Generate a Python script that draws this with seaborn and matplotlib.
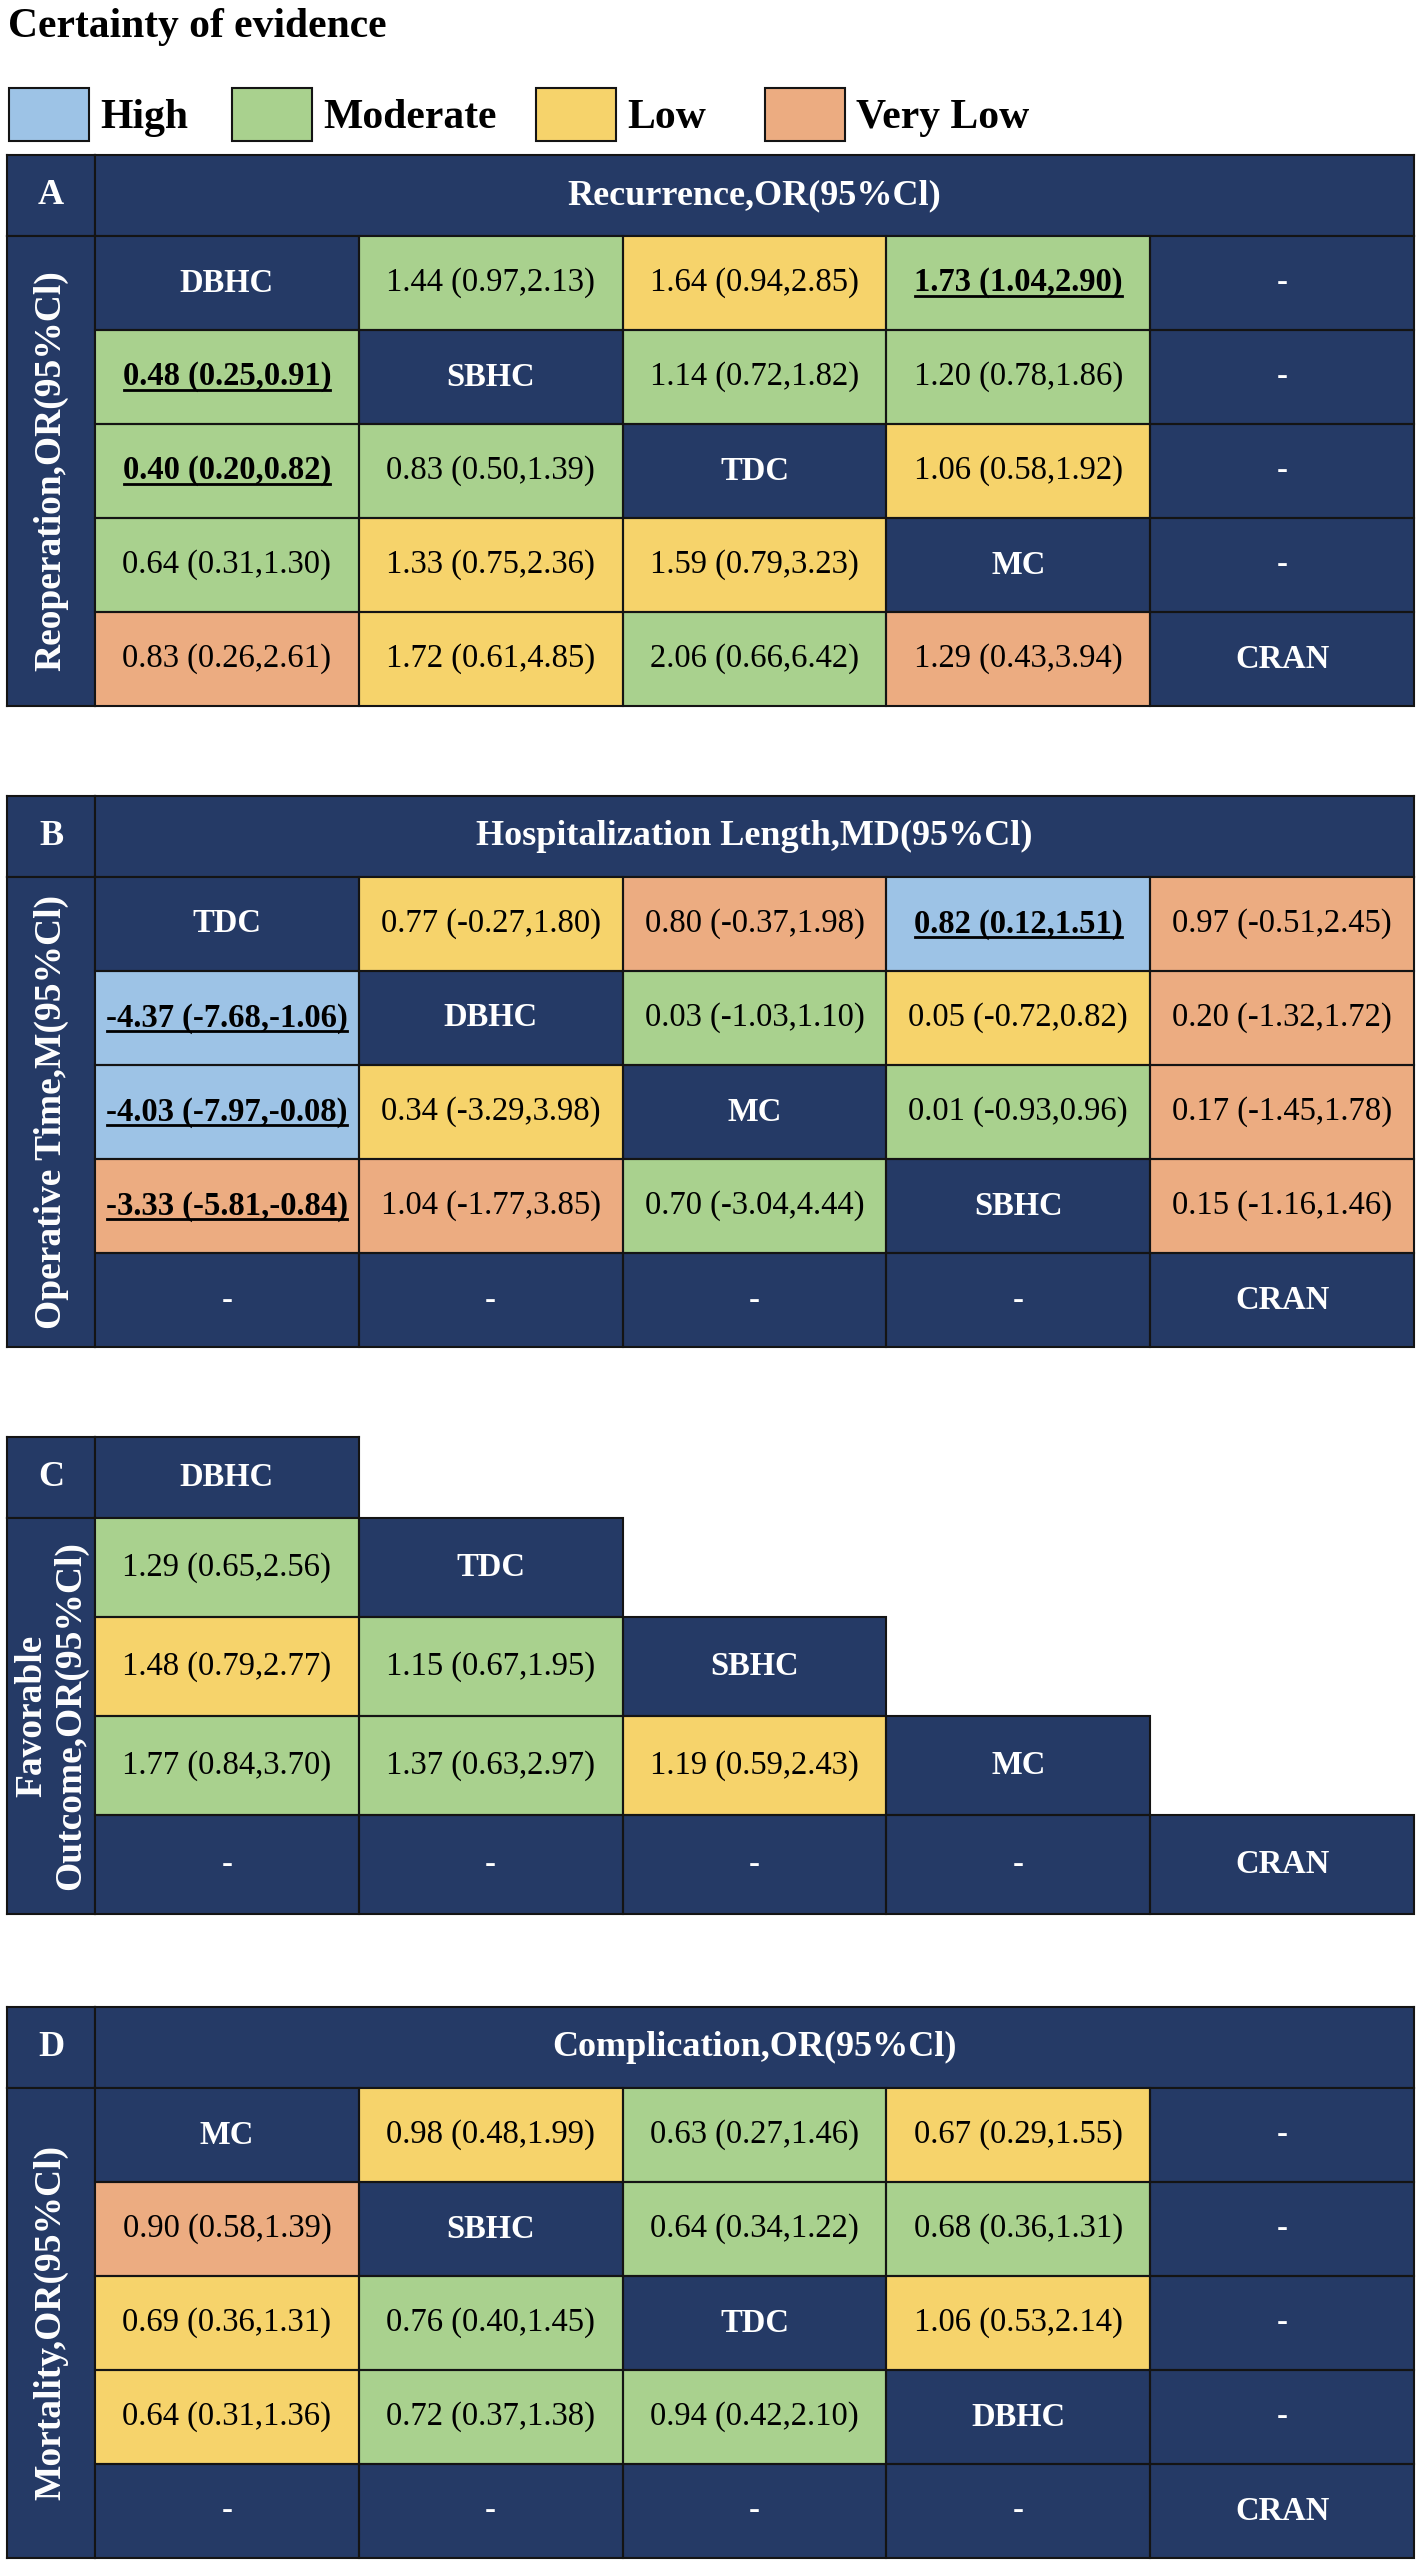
import matplotlib
matplotlib.use("Agg")
import matplotlib.pyplot as plt
from matplotlib.colors import ListedColormap
from matplotlib.lines import Line2D
from matplotlib.patches import Rectangle
import numpy as np
import seaborn as sns

W, H = 1417, 2563
NAVY = "#253a66"
EDGE = "#141414"

certainty_names = ["High", "Moderate", "Low", "Very Low"]
certainty_colors = ["#9dc3e6", "#a9d18e", "#f6d36b", "#ecac81"]
# N = treatment name / "-" cell (navy), H/M/L/V = certainty, blank = empty
code_index = {"N": 0, "H": 1, "M": 2, "L": 3, "V": 4, " ": 0}

# ---- panel A: Recurrence (upper) / Reoperation (lower)
a_labels = [
    ["DBHC", "1.44 (0.97,2.13)", "1.64 (0.94,2.85)", "1.73 (1.04,2.90)", "-"],
    ["0.48 (0.25,0.91)", "SBHC", "1.14 (0.72,1.82)", "1.20 (0.78,1.86)", "-"],
    ["0.40 (0.20,0.82)", "0.83 (0.50,1.39)", "TDC", "1.06 (0.58,1.92)", "-"],
    ["0.64 (0.31,1.30)", "1.33 (0.75,2.36)", "1.59 (0.79,3.23)", "MC", "-"],
    ["0.83 (0.26,2.61)", "1.72 (0.61,4.85)", "2.06 (0.66,6.42)", "1.29 (0.43,3.94)", "CRAN"],
]
a_cert = ["NMLMN", "MNMMN", "MMNLN", "MLLNN", "VLMVN"]
a_sig = ["00010", "10000", "10000", "00000", "00000"]

# ---- panel B: Hospitalization length (upper) / Operative time (lower)
b_labels = [
    ["TDC", "0.77 (-0.27,1.80)", "0.80 (-0.37,1.98)", "0.82 (0.12,1.51)", "0.97 (-0.51,2.45)"],
    ["-4.37 (-7.68,-1.06)", "DBHC", "0.03 (-1.03,1.10)", "0.05 (-0.72,0.82)", "0.20 (-1.32,1.72)"],
    ["-4.03 (-7.97,-0.08)", "0.34 (-3.29,3.98)", "MC", "0.01 (-0.93,0.96)", "0.17 (-1.45,1.78)"],
    ["-3.33 (-5.81,-0.84)", "1.04 (-1.77,3.85)", "0.70 (-3.04,4.44)", "SBHC", "0.15 (-1.16,1.46)"],
    ["-", "-", "-", "-", "CRAN"],
]
b_cert = ["NLVHV", "HNMLV", "HLNMV", "VVMNV", "NNNNN"]
b_sig = ["00010", "10000", "10000", "10000", "00000"]

# ---- panel C: Favorable outcome (lower triangle only)
c_first = "DBHC"
c_labels = [
    ["1.29 (0.65,2.56)", "TDC", "", "", ""],
    ["1.48 (0.79,2.77)", "1.15 (0.67,1.95)", "SBHC", "", ""],
    ["1.77 (0.84,3.70)", "1.37 (0.63,2.97)", "1.19 (0.59,2.43)", "MC", ""],
    ["-", "-", "-", "-", "CRAN"],
]
c_cert = ["MN   ", "LMN  ", "MMLN ", "NNNNN"]
c_sig = ["00000", "00000", "00000", "00000"]

# ---- panel D: Complication (upper) / Mortality (lower)
d_labels = [
    ["MC", "0.98 (0.48,1.99)", "0.63 (0.27,1.46)", "0.67 (0.29,1.55)", "-"],
    ["0.90 (0.58,1.39)", "SBHC", "0.64 (0.34,1.22)", "0.68 (0.36,1.31)", "-"],
    ["0.69 (0.36,1.31)", "0.76 (0.40,1.45)", "TDC", "1.06 (0.53,2.14)", "-"],
    ["0.64 (0.31,1.36)", "0.72 (0.37,1.38)", "0.94 (0.42,2.10)", "DBHC", "-"],
    ["-", "-", "-", "-", "CRAN"],
]
d_cert = ["NLMLN", "VNMMN", "LMNLN", "LMMNN", "NNNNN"]
d_sig = ["00000", "00000", "00000", "00000", "00000"]

plt.rcParams["font.family"] = ["Liberation Serif", "DejaVu Serif"]

fig = plt.figure(figsize=(W / 100, H / 100), dpi=100)
cmap = ListedColormap([NAVY] + certainty_colors)
underlined = []

X0, XL, X1 = 7, 95, 1414  # left edge, end of label column, right edge


def px_axes(x0, y0, x1, y1):
    return fig.add_axes([x0 / W, 1 - y1 / H, (x1 - x0) / W, (y1 - y0) / H])


def navy_box(x0, y0, x1, y1, text="", size=26, **kw):
    ax = px_axes(x0, y0, x1, y1)
    ax.set_facecolor(NAVY)
    ax.set_xticks([])
    ax.set_yticks([])
    for s in ax.spines.values():
        s.set_color(EDGE)
        s.set_linewidth(1.5)
    if text:
        ax.text(0.5, 0.5, text, transform=ax.transAxes, ha="center", va="center",
                color="white", fontsize=size, fontweight="bold", **kw)
    return ax


def draw_grid(ax, labels, cert, sig):
    codes = np.array([[code_index[c] for c in row] for row in cert])
    mask = np.array([[c == " " for c in row] for row in cert])
    sns.heatmap(codes, ax=ax, mask=mask, cmap=cmap, vmin=-0.5, vmax=4.5, cbar=False,
                linewidths=0, xticklabels=False, yticklabels=False)
    ax.set_facecolor("white")
    for i, row in enumerate(labels):
        for j, txt in enumerate(row):
            if mask[i, j]:
                continue
            ax.add_patch(Rectangle((j, i), 1, 1, fill=False, edgecolor=EDGE,
                                   linewidth=1.5, clip_on=False))
            navy = cert[i][j] == "N"
            mark = sig[i][j] == "1"
            t = ax.text(j + 0.5, i + 0.5, txt, ha="center", va="center",
                        color="white" if navy else "black", fontsize=23.5,
                        fontweight="bold" if (navy or mark) else "normal")
            if mark:
                underlined.append(t)


def full_panel(letter, header, side, top, labels, cert, sig):
    hb = top + 81
    bottom = hb + 94 * len(labels)
    navy_box(X0, top, XL, hb, letter, size=26)
    navy_box(XL, top, X1, hb, header, size=26)
    navy_box(X0, hb, XL, bottom, side, size=27, rotation=90)
    ax = px_axes(XL, hb, X1, bottom)
    draw_grid(ax, labels, cert, sig)


# title + legend
fig.text(8 / W, 1 - 27 / H, "Certainty of evidence", ha="left", va="center",
         fontsize=30, fontweight="bold")
legend_x = [9, 232, 536, 765]
for name, color, lx in zip(certainty_names, certainty_colors, legend_x):
    fig.add_artist(Rectangle((lx / W, 1 - 141 / H), 80 / W, 53 / H, facecolor=color,
                             edgecolor=EDGE, linewidth=1.5, transform=fig.transFigure))
    fig.text((lx + 91) / W, 1 - 118 / H, name, ha="left", va="center",
             fontsize=30, fontweight="bold")

full_panel("A", "Recurrence,OR(95%Cl)", "Reoperation,OR(95%Cl)", 155, a_labels, a_cert, a_sig)
full_panel("B", "Hospitalization Length,MD(95%Cl)", "Operative Time,M(95%Cl)", 796,
           b_labels, b_cert, b_sig)
full_panel("D", "Complication,OR(95%Cl)", "Mortality,OR(95%Cl)", 2007, d_labels, d_cert, d_sig)

# panel C (triangle)
c_top = 1437
c_hb = c_top + 81
c_bottom = c_hb + 99 * len(c_labels)
col_w = (X1 - XL) / 5
navy_box(X0, c_top, XL, c_hb, "C", size=26)
navy_box(XL, c_top, XL + col_w, c_hb, c_first, size=23.5)
navy_box(X0, c_hb, XL, c_bottom, "Favorable\nOutcome,OR(95%Cl)", size=27, rotation=90,
         linespacing=1.15, multialignment="center")
axc = px_axes(XL, c_hb, X1, c_bottom)
draw_grid(axc, c_labels, c_cert, c_sig)

# underline the significant results
fig.canvas.draw()
renderer = fig.canvas.get_renderer()
inv = fig.transFigure.inverted()
for t in underlined:
    bb = t.get_window_extent(renderer)
    (fx0, fy), (fx1, _) = inv.transform([(bb.x0 + 1, bb.y0 + 3), (bb.x1 - 1, bb.y0 + 3)])
    fig.add_artist(Line2D([fx0, fx1], [fy, fy], color="black", linewidth=2.0,
                          transform=fig.transFigure))

fig.savefig("out.png", dpi=100, facecolor="white")
